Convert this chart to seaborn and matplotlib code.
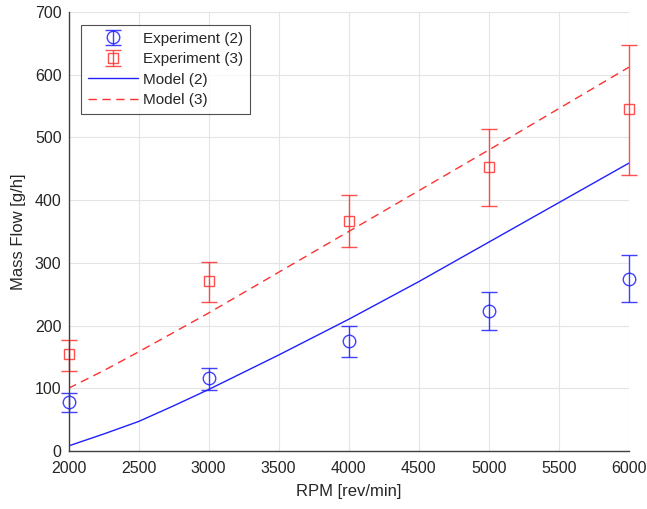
import numpy as np
import pandas as pd
import matplotlib
matplotlib.use("Agg")
import matplotlib.pyplot as plt
import seaborn as sns

# Experimental data
rpm_exp = [2000, 3000, 4000, 5000, 6000]
exp2 = [78, 116, 176, 224, 274]
exp2_lo = [62, 98, 150, 193, 238]
exp2_hi = [93, 133, 200, 253, 312]
exp3 = [154, 271, 366, 453, 545]
exp3_lo = [128, 238, 325, 391, 440]
exp3_hi = [177, 302, 408, 513, 648]

# Model curves
rpm_model = [2000, 2250, 2500, 2750, 3000, 3500, 4000, 4500, 5000, 5500, 6000]
model2 = [8, 27, 47, 72, 98, 153, 210, 270, 333, 396, 459]
model3 = [100, 128, 158, 189, 220, 285, 350, 415, 480, 546, 612]

blue = "#2020ff"
red = "#ff3030"

sns.set_theme(style="whitegrid")
plt.rcParams['font.family'] = ['Liberation Sans', 'DejaVu Sans']

fig = plt.figure(figsize=(6.47, 5.09), dpi=100)
ax = fig.add_axes([0.1059, 0.114, 0.8661, 0.8624])

e2 = np.array(exp2); e3 = np.array(exp3)
yerr2 = [e2 - np.array(exp2_lo), np.array(exp2_hi) - e2]
yerr3 = [e3 - np.array(exp3_lo), np.array(exp3_hi) - e3]

c2 = ax.errorbar(rpm_exp, exp2, yerr=yerr2, fmt='o', color=blue, mfc='none',
                 ms=9, capsize=6, elinewidth=1.0, mew=1.0, label='Experiment (2)', alpha=0.85)
c3 = ax.errorbar(rpm_exp, exp3, yerr=yerr3, fmt='s', color=red, mfc='none',
                 ms=7, capsize=6, elinewidth=1.0, mew=1.0, label='Experiment (3)', alpha=0.85)
for c in (c2, c3):
    c.lines[0].set_clip_on(False)
    for art in c.lines[1]:
        art.set_clip_on(False)
    for art in c.lines[2]:
        art.set_clip_on(False)

df = pd.DataFrame({'rpm': rpm_model, 'Model (2)': model2, 'Model (3)': model3})
sns.lineplot(data=df, x='rpm', y='Model (2)', ax=ax, color=blue, lw=1.0, label='Model (2)')
sns.lineplot(data=df, x='rpm', y='Model (3)', ax=ax, color=red, lw=1.0,
             label='Model (3)', linestyle=(0, (6, 4)))

ax.set_xlim(2000, 6000)
ax.set_ylim(0, 700)
ax.set_xticks(np.arange(2000, 6001, 500))
ax.set_yticks(np.arange(0, 701, 100))
ax.set_xlabel('RPM [rev/min]', fontsize=12, color='#262626', labelpad=6)
ax.set_ylabel('Mass Flow [g/h]', fontsize=12, color='#262626', labelpad=6)
ax.tick_params(labelsize=11.5, colors='#262626', direction='in', length=4, width=0.8)
ax.tick_params(axis='x', pad=7)
ax.tick_params(axis='y', pad=5)
ax.grid(True, color='#e4e4e4', lw=0.8)
ax.set_facecolor('white')
ax.spines['top'].set_visible(False)
ax.spines['right'].set_visible(False)
for name in ('left', 'bottom'):
    ax.spines[name].set_visible(True)
    ax.spines[name].set_color('#404040')
    ax.spines[name].set_linewidth(1.0)
    ax.spines[name].set_zorder(5)

handles, labels = ax.get_legend_handles_labels()
order = ['Experiment (2)', 'Experiment (3)', 'Model (2)', 'Model (3)']
hmap = dict(zip(labels, handles))
leg = ax.legend([hmap[k] for k in order], order, loc='upper left',
                bbox_to_anchor=(0.0223, 0.9706), fontsize=11,
                frameon=True, fancybox=False, edgecolor='#262626',
                handlelength=3.3, borderpad=0.45, labelspacing=0.42, handletextpad=0.3,
                borderaxespad=0)
leg.get_frame().set_linewidth(0.8)

fig.savefig('out.png', dpi=100, facecolor='white')
